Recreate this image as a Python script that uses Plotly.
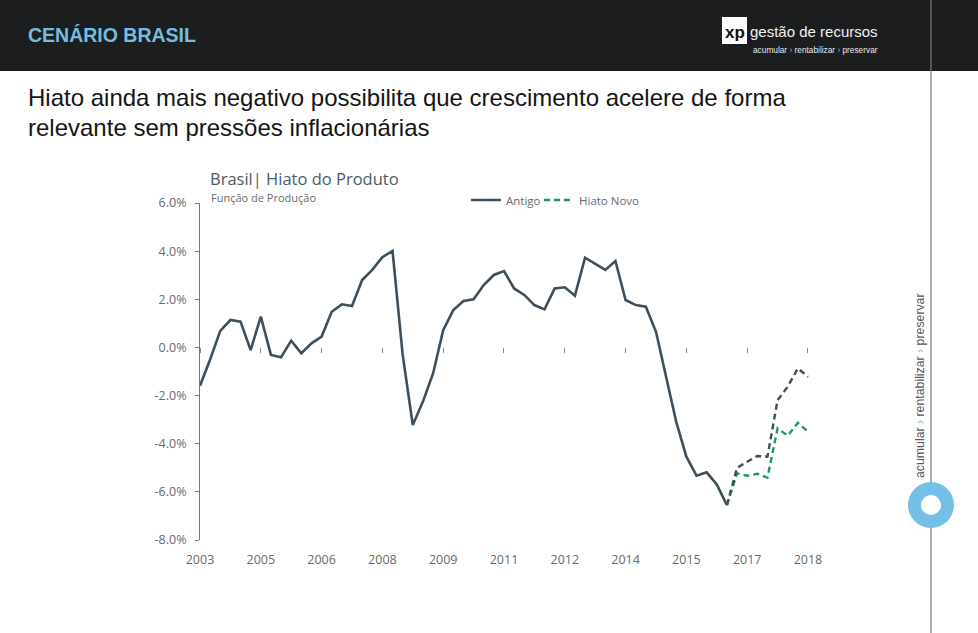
import plotly.graph_objects as go

# ---------------- data ----------------
quarters = [f"{y}T{q}" for y in range(2003, 2019) for q in range(1, 5)][:61]
tick_labels = ["2003", "2005", "2006", "2008", "2009", "2011", "2012", "2014", "2015", "2017", "2018"]

antigo = [-1.59, -0.50, 0.69, 1.14, 1.07, -0.11, 1.28, -0.31, -0.41, 0.28,
          -0.24, 0.17, 0.45, 1.48, 1.79, 1.72, 2.80, 3.22, 3.75, 4.01,
          -0.30, -3.22, -2.25, -1.08, 0.72, 1.55, 1.93, 2.00, 2.59, 3.01,
          3.17, 2.45, 2.18, 1.76, 1.58, 2.45, 2.50, 2.15, 3.73, 3.49,
          3.22, 3.59, 1.97, 1.76, 1.69, 0.65, -1.22, -3.09, -4.54, -5.33,
          -5.19, -5.69, -6.55, -5.00, -4.75, -4.51, -4.54, -2.19, -1.63, -0.87,
          -1.22]
hiato_novo = [None] * 52 + [-6.55, -5.23, -5.33, -5.25, -5.41, -3.36, -3.67, -3.13, -3.50]
split = 52  # Antigo is solid up to here, dashed afterwards
y_ticks = [-8, -6, -4, -2, 0, 2, 4, 6]
y_tick_text = [f"{v:.1f}%" for v in y_ticks]

# ---------------- geometry (pixels) ----------------
W, H = 978, 633
L, R, T, B = 200, 811, 203, 540
PW, PH = R - L, B - T
def px(x): return (x - L) / PW
def py(y): return (B - y) / PH

DARK = "#3e4f5b"
GREEN = "#1f9a5c"
TICKTXT = "#6a6a6a"
FONT = "Open Sans"

fig = go.Figure()
fig.add_trace(go.Scatter(x=quarters[:split + 1], y=antigo[:split + 1], mode="lines", name="Antigo",
                         line=dict(color=DARK, width=2.6), hoverinfo="skip", legend="legend"))
fig.add_trace(go.Scatter(x=quarters[split:], y=antigo[split:], mode="lines", name="Antigo proj",
                         showlegend=False, xaxis="x2",
                         line=dict(color=DARK, width=2.4, dash="6px,4px"), hoverinfo="skip"))
fig.add_trace(go.Scatter(x=quarters, y=hiato_novo, mode="lines", name="Hiato Novo",
                         line=dict(color=GREEN, width=2.4, dash="6px,4px"), hoverinfo="skip",
                         legend="legend2"))

rng = [0, (R - L) / 10.133]
leg_common = dict(orientation="h", y=py(200), xanchor="left", yanchor="middle",
                  bgcolor="rgba(0,0,0,0)", font=dict(size=11.5, color=TICKTXT, family=FONT),
                  itemwidth=30)
fig.update_layout(
    width=W, height=H,
    margin=dict(l=L, r=W - R, t=T, b=H - B),
    paper_bgcolor="white", plot_bgcolor="rgba(0,0,0,0)",
    font=dict(family=FONT, color=TICKTXT),
    xaxis=dict(type="category", categoryorder="array", categoryarray=quarters, range=rng,
               tickvals=quarters[::6], ticktext=tick_labels, ticks="", showline=False,
               showgrid=False, zeroline=False, tickfont=dict(size=12.5, color=TICKTXT, family=FONT),
               ticklabelstandoff=10),
    xaxis2=dict(type="category", categoryorder="array", categoryarray=quarters, range=rng,
                overlaying="x", anchor="free", position=py(347.4),
                tickvals=quarters[::6], ticks="outside", ticklen=5, tickwidth=1, tickcolor="#888",
                showticklabels=False, showline=False, showgrid=False, zeroline=False),
    yaxis=dict(range=[-8, 6], tickvals=y_ticks, ticktext=y_tick_text,
               showline=True, linecolor="#777", linewidth=1, ticks="outside", ticklen=4,
               tickcolor="#777", showgrid=False, zeroline=False, ticklabelstandoff=6,
               tickfont=dict(size=12.5, color=TICKTXT, family=FONT)),
    legend=dict(x=px(466), **leg_common),
    legend2=dict(x=px(539), **leg_common),
    showlegend=True,
)

shapes = [
    # header band
    dict(type="rect", xref="paper", yref="paper", x0=px(0), x1=px(W), y0=py(71), y1=py(0),
         fillcolor="#1c1d1f", line=dict(width=0), layer="below"),
    # xp logo box
    dict(type="rect", xref="paper", yref="paper", x0=px(722), x1=px(747), y0=py(44), y1=py(17),
         fillcolor="white", line=dict(width=0), layer="above"),
    # right vertical line
    dict(type="line", xref="paper", yref="paper", x0=px(931), x1=px(931), y0=py(0), y1=py(H),
         line=dict(color="#7a7a7a", width=1.2), layer="above"),
    # circle ring
    dict(type="circle", xref="paper", yref="paper", x0=px(931 - 23), x1=px(931 + 23),
         y0=py(505 + 23), y1=py(505 - 23), fillcolor="#74c0e6", line=dict(width=0), layer="above"),
    dict(type="circle", xref="paper", yref="paper", x0=px(931 - 10), x1=px(931 + 10),
         y0=py(505 + 10), y1=py(505 - 10), fillcolor="white", line=dict(width=0), layer="above"),
    # clip of chart image at the right (cuts the last tick label)
    dict(type="rect", xref="paper", yref="paper", x0=px(822), x1=px(870), y0=py(575), y1=py(545),
         fillcolor="white", line=dict(width=0), layer="above"),
]
fig.update_layout(shapes=shapes)

SANS = "Liberation Sans"
def ann(text, x, y, size, color, family=SANS, xanchor="left", yanchor="middle", angle=0, bold=False):
    if bold:
        text = f"<b>{text}</b>"
    fig.add_annotation(text=text, x=px(x), y=py(y), xref="paper", yref="paper", showarrow=False,
                       xanchor=xanchor, yanchor=yanchor, textangle=angle,
                       font=dict(size=size, color=color, family=family))

ann("CENÁRIO BRASIL", 26, 35, 19.5, "#74bde0", bold=True)
ann("xp", 735, 33, 17, "#111111", xanchor="center", bold=True)
ann("gestão de recursos", 748, 32, 15, "#f2f2f2")
ann("acumular <span style='color:#74c0e6'>›</span> rentabilizar <span style='color:#74c0e6'>›</span> preservar",
    751, 50, 8.3, "#e8e8e8")
ann("Hiato ainda mais negativo possibilita que crescimento acelere de forma", 26, 97, 24, "#151515")
ann("relevante sem pressões inflacionárias", 26, 127, 24, "#151515")
ann("Brasil| Hiato do Produto", 208, 178, 16.5, "#4a5b68", family=FONT)
ann("Função de Produção", 209, 197, 11, "#6a6a6a", family=FONT)
ann("acumular <span style='color:#74c0e6'>›</span> rentabilizar <span style='color:#74c0e6'>›</span> preservar",
    920, 386, 12.3, "#555555", xanchor="center", angle=-90)

fig.write_html("out.html")
